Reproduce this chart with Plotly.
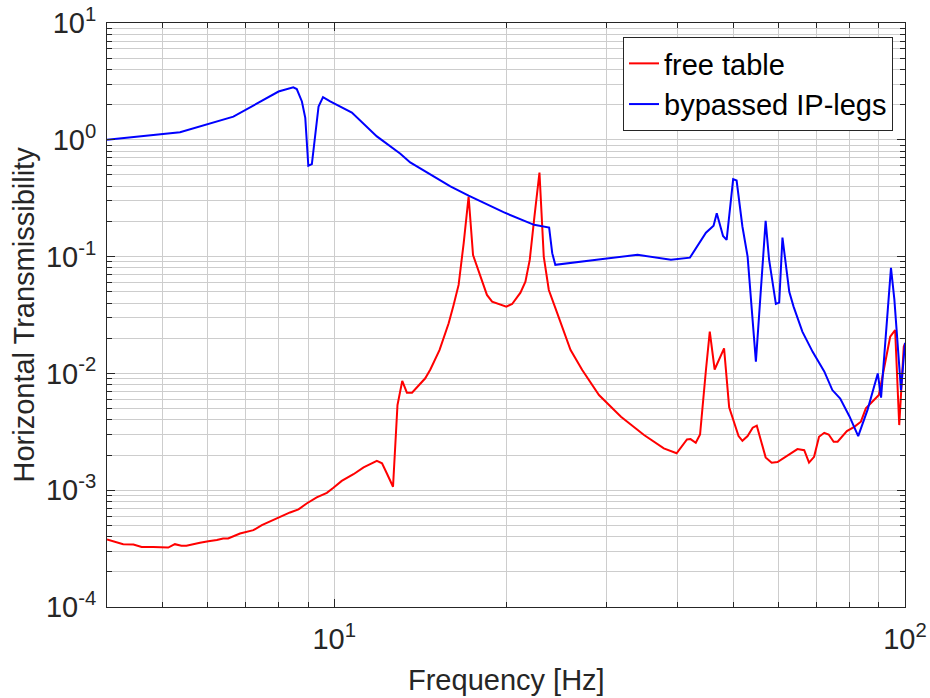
import plotly.graph_objects as go

# ---- data ----
freq_free = [4.0, 4.16, 4.27, 4.45, 4.60, 4.82, 4.99, 5.12, 5.26, 5.40, 5.51, 5.70, 5.82,
             6.02, 6.23, 6.39, 6.52, 6.84, 7.03, 7.22, 7.47, 7.99, 8.37, 8.66, 8.95, 9.32,
             9.71, 9.97, 10.31, 10.81, 11.26, 11.88, 12.13, 12.37, 12.68, 12.91, 13.16,
             13.41, 13.69, 14.44, 14.74, 15.30, 15.87, 16.19, 16.52, 16.86, 17.20, 17.51,
             18.04, 18.52, 18.91, 19.42, 20.03, 20.50, 21.20, 21.63, 22.01, 22.43, 22.89,
             23.29, 23.77, 24.59, 25.26, 25.94, 27.2, 29.1, 31.8, 34.9, 37.8, 39.8, 41.5,
             42.1, 43.0, 43.75, 44.8, 45.5, 46.4, 48.2, 49.2, 51.1, 51.9, 53.0, 54.1, 55.0,
             57.0, 58.4, 59.8, 63.1, 64.8, 66.6, 67.9, 69.3, 70.7, 72.2, 73.5, 75.0, 76.2,
             79.1, 81.5, 83.7, 85.4, 90.0, 94.2, 96.1, 97.7, 99.5, 100.0]
trans_free = [3.79e-4, 3.61e-4, 3.45e-4, 3.43e-4, 3.27e-4, 3.27e-4, 3.27e-4, 3.23e-4,
              3.45e-4, 3.34e-4, 3.34e-4, 3.50e-4, 3.55e-4, 3.66e-4, 3.74e-4, 3.86e-4,
              3.86e-4, 4.26e-4, 4.40e-4, 4.55e-4, 5.02e-4, 5.85e-4, 6.45e-4, 6.85e-4,
              7.70e-4, 8.68e-4, 9.5e-4, 1.05e-3, 1.20e-3, 1.37e-3, 1.57e-3, 1.78e-3,
              1.70e-3, 1.39e-3, 1.07e-3, 5.36e-3, 8.61e-3, 6.84e-3, 6.84e-3, 9.08e-3,
              0.0108, 0.0159, 0.0269, 0.0385, 0.0572, 0.130, 0.327, 0.103, 0.0675, 0.047,
              0.0412, 0.0393, 0.0373, 0.0393, 0.0491, 0.0611, 0.0937, 0.220, 0.525, 0.100,
              0.0518, 0.0328, 0.0228, 0.0159, 0.0107, 0.00653, 0.00426, 0.00297, 0.00228,
              0.00207, 0.00272, 0.00274, 0.00255, 0.0030, 0.0107, 0.0228, 0.0108, 0.0164,
              0.00512, 0.00291, 0.00265, 0.00291, 0.00343, 0.00357, 0.00191, 0.00172,
              0.00174, 0.00207, 0.00225, 0.00220, 0.00172, 0.00193, 0.00287, 0.0031,
              0.0030, 0.0026, 0.0026, 0.00321, 0.00349, 0.00386, 0.00502, 0.00653, 0.0206,
              0.0235, 0.00361, 0.0169, 0.018]

freq_bypass = [4.0, 5.37, 6.66, 7.99, 8.48, 8.60, 8.78, 8.90, 9.01, 9.14, 9.39, 9.56, 9.84,
               10.74, 11.88, 13.06, 13.59, 15.98, 17.2, 19.8, 22.4, 23.8, 24.1, 24.4, 29.3,
               34.0, 38.9, 42.0, 44.8, 46.2, 46.8, 48.0, 48.7, 49.4, 50.0, 50.7, 51.9, 53.0,
               54.8, 57.0, 57.8, 59.4, 60.2, 61.0, 62.7, 63.8, 66.1, 68.9, 72.2, 74.6, 77.0,
               79.9, 82.8, 86.0, 89.6, 90.8, 94.5, 95.8, 98.4, 100.0]
trans_bypass = [1.0, 1.16, 1.58, 2.59, 2.81, 2.72, 2.13, 1.54, 0.60, 0.62, 1.93, 2.32, 2.13,
                1.71, 1.07, 0.76, 0.64, 0.40, 0.333, 0.240, 0.187, 0.177, 0.107, 0.085,
                0.095, 0.1035, 0.094, 0.098, 0.16, 0.184, 0.235, 0.150, 0.139, 0.287, 0.46,
                0.448, 0.181, 0.10, 0.0126, 0.202, 0.094, 0.0394, 0.0404, 0.1455, 0.050,
                0.0373, 0.0228, 0.0153, 0.0104, 0.0072, 0.0061, 0.0043, 0.0029, 0.0049,
                0.010, 0.0062, 0.080, 0.043, 0.0072, 0.0183]

series_names = ["free table", "bypassed IP-legs"]

x_tickvals = [10, 100]
x_ticktext = ["10<sup>1</sup>", "10<sup>2</sup>"]
y_tickvals = [1e-4, 1e-3, 1e-2, 1e-1, 1, 10]
y_ticktext = ["10<sup>-4</sup>", "10<sup>-3</sup>", "10<sup>-2</sup>", "10<sup>-1</sup>",
              "10<sup>0</sup>", "10<sup>1</sup>"]

x_minor = [k * 10 ** n for n in range(0, 2) for k in range(2, 10)]
y_minor = [k * 10.0 ** n for n in range(-4, 1) for k in range(2, 10)]

FONT = "Liberation Sans, Arial, Helvetica, sans-serif"
AX = "#262626"
GRID = "#cdcdcd"
FS = 29

fig = go.Figure()
fig.add_trace(go.Scatter(x=freq_free, y=trans_free, mode="lines", name=series_names[0],
                         line=dict(color="#ff0000", width=2)))
fig.add_trace(go.Scatter(x=freq_bypass, y=trans_bypass, mode="lines", name=series_names[1],
                         line=dict(color="#0000ff", width=2)))

common = dict(showline=True, linecolor=AX, linewidth=1, mirror="ticks", ticks="inside",
              ticklen=8, tickcolor=AX, showgrid=True, gridcolor=GRID, gridwidth=1,
              zeroline=False, automargin=False, ticklabeloverflow="allow",
              tickfont=dict(family=FONT, size=FS, color=AX))

fig.update_xaxes(type="log", range=[0.60206, 2.0], tickmode="array",
                 tickvals=x_tickvals, ticktext=x_ticktext, ticklabelstandoff=6,
                 minor=dict(tickvals=x_minor, ticks="inside", ticklen=5, tickcolor=AX,
                            showgrid=True, gridcolor=GRID, gridwidth=1),
                 **common)
fig.update_yaxes(type="log", range=[-4, 1], tickmode="array",
                 tickvals=y_tickvals, ticktext=y_ticktext, ticklabelstandoff=4,
                 minor=dict(tickvals=y_minor, ticks="inside", ticklen=5, tickcolor=AX,
                            showgrid=True, gridcolor=GRID, gridwidth=1),
                 **common)

fig.update_layout(
    width=930, height=698,
    margin=dict(l=107, r=25, t=23, b=91, autoexpand=False),
    paper_bgcolor="white", plot_bgcolor="white",
    font=dict(family=FONT, color=AX),
    showlegend=True,
    legend=dict(x=0.985, y=0.976, xanchor="right", yanchor="top",
                bgcolor="white", bordercolor=AX, borderwidth=1,
                font=dict(family=FONT, size=29, color="#000000"),
                itemwidth=30, tracegroupgap=0),
    annotations=[
        dict(text="Frequency [Hz]", xref="paper", yref="paper", x=0.5, y=-0.125,
             xanchor="center", yanchor="middle", showarrow=False,
             font=dict(family=FONT, size=FS, color=AX)),
        dict(text="Horizontal Transmissibility", xref="paper", yref="paper",
             x=-0.1046, y=0.5, xanchor="center", yanchor="middle", textangle=-90,
             showarrow=False, font=dict(family=FONT, size=FS, color=AX)),
    ],
)

# remove the browser's default 8px body margin so the figure sits at the page origin
fig.write_html("out.html",
               config={"displayModeBar": False},
               post_script="document.body.style.margin='0px';"
                           "document.body.style.overflow='hidden';")
